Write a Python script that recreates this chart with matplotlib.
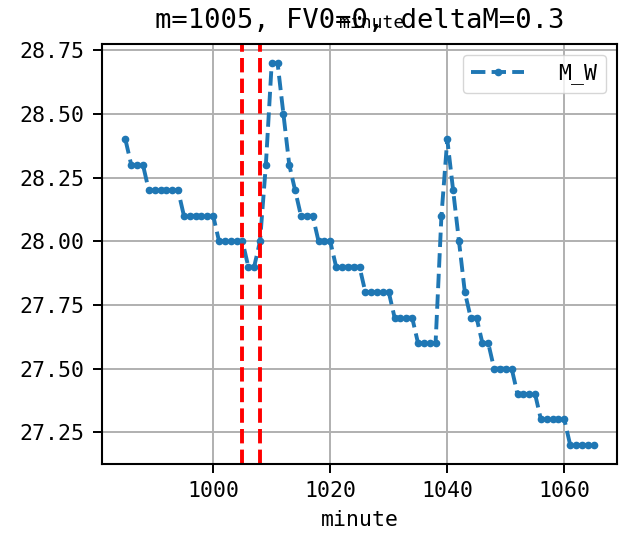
import matplotlib
matplotlib.use("Agg")
import matplotlib.pyplot as plt

plt.rcParams['font.family'] = ['DejaVu Sans Mono', 'Noto Sans CJK SC']
plt.rcParams['axes.unicode_minus'] = False

minutes = list(range(985, 1066))
m_w = ([28.4] + [28.3]*3 + [28.2]*6 + [28.1]*6 + [28.0]*5 + [27.9]*2 + [28.0] +
       [28.3] + [28.7]*2 + [28.5] + [28.3] + [28.2] + [28.1]*3 + [28.0]*3 +
       [27.9]*5 + [27.8]*5 + [27.7]*4 + [27.6]*4 + [28.1] + [28.4] + [28.2] +
       [28.0] + [27.8] + [27.7]*2 + [27.6]*2 + [27.5]*4 + [27.4]*4 + [27.3]*5 + [27.2]*5)
vlines = [1005, 1008]
yticks = [27.25, 27.5, 27.75, 28.0, 28.25, 28.5, 28.75]
xticks = [1000, 1020, 1040, 1060]
title = "m=1005, FV0=0, deltaM=0.3"
series_label = "M_W"

W, H = 619, 546
fig = plt.figure(figsize=(W/100, H/100), dpi=100)
ax = fig.add_axes([102/W, 1-464/H, (617-102)/W, (464-44)/H])

ax.plot(minutes, m_w, linestyle='--', marker='o', markersize=4.5, linewidth=2.8,
        color='#1f77b4', label=series_label)
for v in vlines:
    ax.axvline(v, color='red', linestyle='--', linewidth=2.8)

ax.grid(True, color='#b0b0b0', linewidth=1.4)
ax.set_yticks(yticks)
ax.set_xticks(xticks)
ax.tick_params(labelsize=15.5, length=6.5, width=1.4)
ax.tick_params(axis='y', pad=6.5)
ax.tick_params(axis='x', pad=6)
ax.set_xlabel("minute", fontsize=15.5, labelpad=6)
ax.set_title(title, fontsize=19.5, pad=11.5)
fig.text(372/W, 1-28/H, "minute", fontsize=13, ha='center', va='baseline')
leg = ax.legend(loc='upper right', fontsize=15.5, handlelength=2.45,
                handletextpad=1.6, borderaxespad=0.5)
for s in ax.spines.values():
    s.set_linewidth(1.5)

fig.savefig("out.png", dpi=100)
